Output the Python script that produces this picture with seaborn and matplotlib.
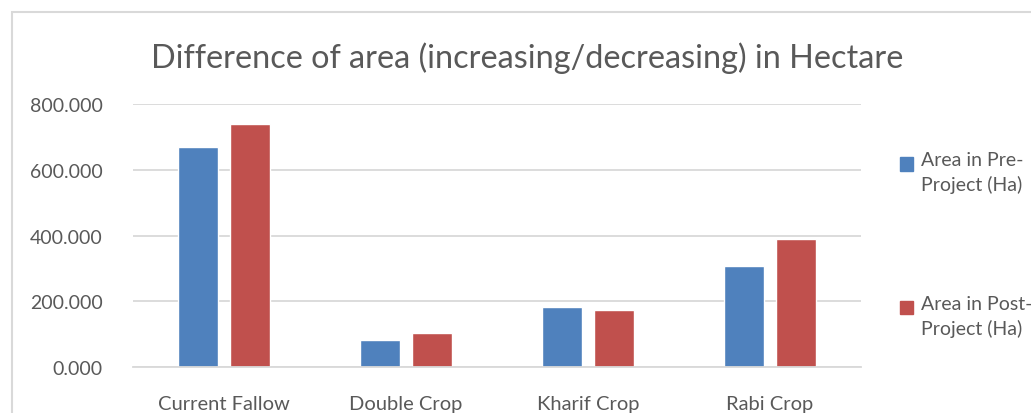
import matplotlib
matplotlib.use("Agg")
import matplotlib.pyplot as plt
import matplotlib.patches as mpatches
from matplotlib.legend_handler import HandlerPatch
import seaborn as sns
import pandas as pd

# chart values
categories = ["Current Fallow", "Double Crop", "Kharif Crop", "Rabi Crop"]
series = ["Area in Pre-Project (Ha)", "Area in Post-Project (Ha)"]
pre_project = [669, 82, 182, 307]
post_project = [739, 103, 173, 389]
y_ticks = [0, 200, 400, 600, 800]

df = pd.DataFrame({
    "category": categories * 2,
    "series": [series[0]] * 4 + [series[1]] * 4,
    "area": pre_project + post_project,
})

sns.set_theme(style="white")
plt.rcParams["font.family"] = ["Lato", "DejaVu Sans"]

colors = ["#4F81BD", "#C0504D"]
text_col = "#595959"
grid_col = "#D9D9D9"

fig = plt.figure(figsize=(10.31, 4.14), dpi=100)
ax = fig.add_axes([0.129, 0.111, 0.706, 0.635])

sns.barplot(data=df, x="category", y="area", hue="series", palette=colors,
            width=0.571, gap=0.23, saturation=1, ax=ax, legend=False)

ax.set_ylim(0, 800)
ax.set_yticks(y_ticks)
ax.set_yticklabels([f"{v:.3f}" for v in y_ticks])
ax.set_xlim(-0.5, len(categories) - 0.5)
ax.yaxis.grid(True, color=grid_col, linewidth=1.3)
ax.set_axisbelow(True)
for s in ["top", "right", "left"]:
    ax.spines[s].set_visible(False)
ax.spines["bottom"].set_color(grid_col)
ax.spines["bottom"].set_linewidth(1.3)
ax.tick_params(axis="both", length=0, colors=text_col)
ax.tick_params(axis="x", labelsize=14.5, pad=20)
ax.tick_params(axis="y", labelsize=14, pad=22)
ax.set_xlabel("")
ax.set_ylabel("")

fig.text(0.511, 0.86, "Difference of area (increasing/decreasing) in Hectare",
         ha="center", va="center", fontsize=23.3, color=text_col)


# legend square sits beside the first line of the wrapped label
def top_square(legend, orig_handle, xdescent, ydescent, width, height, fontsize):
    s = 0.68 * fontsize
    return mpatches.Rectangle((-xdescent, -ydescent + height - s - 0.2 * fontsize), s, s)


handles = [mpatches.Patch(color=c) for c in colors]
labels = ["Area in Pre-\nProject (Ha)", "Area in Post-\nProject (Ha)"]
leg = fig.legend(handles, labels, loc="upper left", bbox_to_anchor=(0.873, 0.632),
                 frameon=False, fontsize=14, labelcolor=text_col,
                 handlelength=0.7, handleheight=2.8, handletextpad=0.4,
                 labelspacing=5.2, borderaxespad=0, borderpad=0,
                 handler_map={mpatches.Patch: HandlerPatch(patch_func=top_square)})
for t in leg.get_texts():
    t.set_linespacing(1.45)

# chart frame (cut off at right and bottom like the source)
fig.patches.append(mpatches.Rectangle((12 / 1031, -0.1), 1.2, 1.1 - 13 / 414,
                                      transform=fig.transFigure, fill=False,
                                      edgecolor="#D9D9D9", linewidth=1.5))

fig.savefig("out.png", dpi=100)
